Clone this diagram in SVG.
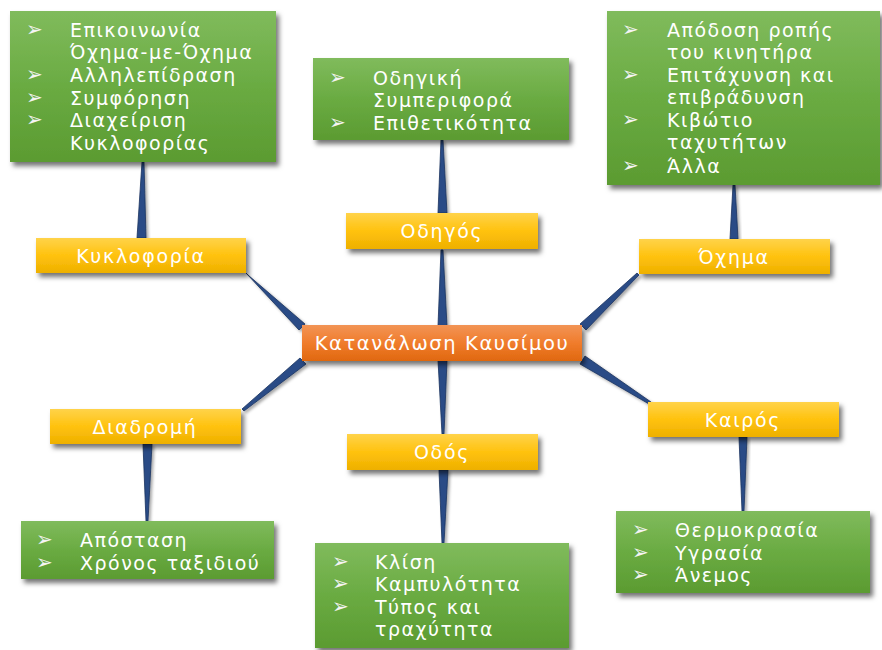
<svg xmlns="http://www.w3.org/2000/svg" width="882" height="650" viewBox="0 0 882 650">
<defs>
<linearGradient id="gGreen" x1="0" y1="0" x2="0" y2="1">
<stop offset="0" stop-color="#80bb5c"/><stop offset="0.5" stop-color="#6aab42"/><stop offset="1" stop-color="#5b9b31"/>
</linearGradient>
<linearGradient id="gYellow" x1="0" y1="0" x2="0" y2="1">
<stop offset="0" stop-color="#ffd34a"/><stop offset="0.5" stop-color="#ffc20e"/><stop offset="1" stop-color="#eeb000"/>
</linearGradient>
<linearGradient id="gOrange" x1="0" y1="0" x2="0" y2="1">
<stop offset="0" stop-color="#f29455"/><stop offset="0.5" stop-color="#f07c2c"/><stop offset="1" stop-color="#e0680f"/>
</linearGradient>
<filter id="sh" x="-10%" y="-20%" width="130%" height="160%">
<feDropShadow dx="3" dy="4" stdDeviation="2.5" flood-color="#000" flood-opacity="0.55"/>
</filter>
<filter id="shs" x="-50%" y="-50%" width="200%" height="200%">
<feDropShadow dx="2" dy="2" stdDeviation="1.5" flood-color="#000" flood-opacity="0.35"/>
</filter>
</defs>
<style>
.green{fill:url(#gGreen);filter:url(#sh)}
.yellow{fill:url(#gYellow);filter:url(#sh)}
.orange{fill:url(#gOrange);filter:url(#sh)}
text{font-family:"DejaVu Sans","Noto Sans",sans-serif;fill:#fff}
.t{font-size:19px;letter-spacing:1.5px}
.lbl{font-size:19px;letter-spacing:1.7px;text-anchor:middle}
.ctr{font-size:19.5px;letter-spacing:1.6px;text-anchor:middle}
.b{font-size:20px;fill:#f4f4f4}
.spike{fill:#2a4c86;stroke:#1a325e;stroke-width:0.8;filter:url(#shs)}
</style>

<g id="connectors">
<polygon class="spike" points="142,162 144,162 146,238 137,238"/>
<polygon class="spike" points="441,140 443,140 447,213 438,213"/>
<polygon class="spike" points="733,185 735,185 738,239 730,239"/>
<polygon class="spike" points="143,444 152,444 148,521 146,521"/>
<polygon class="spike" points="439,470 448,470 444,543 442,543"/>
<polygon class="spike" points="739,437 747,437 744,511 742,511"/>
<polygon class="spike" points="246,273 248,275 305,324 299,330"/>
<polygon class="spike" points="242,409 244,411 306,364 300,358"/>
<polygon class="spike" points="637,273 639,275 586,330 580,324"/>
<polygon class="spike" points="649,404 651,402 585,356 580,364"/>
<polygon class="spike" points="441,250 443,250 447,326 438,326"/>
<polygon class="spike" points="438,360 447,360 444,434 442,434"/>
</g>

<g id="n-center">
<rect class="orange" x="302" y="325" width="280" height="36"/>
<text class="ctr" x="442" y="350">Κατανάλωση Καυσίμου</text>
</g>

<g id="n-kykloforia">
<rect class="yellow" x="36" y="238" width="210" height="35"/>
<text class="lbl" x="141" y="262.5">Κυκλοφορία</text>
</g>
<g id="n-odigos">
<rect class="yellow" x="346" y="213" width="192" height="36"/>
<text class="lbl" x="442" y="238">Οδηγός</text>
</g>
<g id="n-oxima">
<rect class="yellow" x="639" y="239" width="191" height="35"/>
<text class="lbl" x="734" y="263.5">Όχημα</text>
</g>
<g id="n-diadromi">
<rect class="yellow" x="50" y="409" width="191" height="35"/>
<text class="lbl" x="145" y="433.5">Διαδρομή</text>
</g>
<g id="n-odos">
<rect class="yellow" x="347" y="434" width="191" height="36"/>
<text class="lbl" x="442" y="459">Οδός</text>
</g>
<g id="n-kairos">
<rect class="yellow" x="648" y="402" width="191" height="35"/>
<text class="lbl" x="743" y="426.5">Καιρός</text>
</g>

<g id="g-kykloforia">
<rect class="green" x="10" y="11" width="266" height="151"/>
<text class="b" x="26" y="36">➢</text>
<text class="t" x="70" y="36.5">Επικοινωνία</text>
<text class="t" x="70" y="59">Όχημα-με-Όχημα</text>
<text class="b" x="26" y="81">➢</text>
<text class="t" x="70" y="81.5">Αλληλεπίδραση</text>
<text class="b" x="26" y="104">➢</text>
<text class="t" x="70" y="104.5">Συμφόρηση</text>
<text class="b" x="26" y="126">➢</text>
<text class="t" x="70" y="127">Διαχείριση</text>
<text class="t" x="70" y="149.5">Κυκλοφορίας</text>
</g>

<g id="g-odigos">
<rect class="green" x="313" y="58" width="256" height="82"/>
<text class="b" x="329" y="84">➢</text>
<text class="t" x="373" y="84.5">Οδηγική</text>
<text class="t" x="373" y="107">Συμπεριφορά</text>
<text class="b" x="329" y="129">➢</text>
<text class="t" x="373" y="129.5">Επιθετικότητα</text>
</g>

<g id="g-oxima">
<rect class="green" x="607" y="11" width="273" height="174"/>
<text class="b" x="622" y="36">➢</text>
<text class="t" x="667" y="36.5">Απόδοση ροπής</text>
<text class="t" x="667" y="59">του κινητήρα</text>
<text class="b" x="622" y="81">➢</text>
<text class="t" x="667" y="81.5">Επιτάχυνση και</text>
<text class="t" x="667" y="104">επιβράδυνση</text>
<text class="b" x="622" y="126">➢</text>
<text class="t" x="667" y="126.5">Κιβώτιο</text>
<text class="t" x="667" y="149">ταχυτήτων</text>
<text class="b" x="622" y="172">➢</text>
<text class="t" x="667" y="172.5">Άλλα</text>
</g>

<g id="g-diadromi">
<rect class="green" x="21" y="521" width="253" height="58"/>
<text class="b" x="36" y="546">➢</text>
<text class="t" x="80" y="546.5">Απόσταση</text>
<text class="b" x="36" y="569">➢</text>
<text class="t" x="80" y="569.5">Χρόνος ταξιδιού</text>
</g>

<g id="g-odos">
<rect class="green" x="315" y="543" width="254" height="105"/>
<text class="b" x="332" y="568">➢</text>
<text class="t" x="375" y="568.5">Κλίση</text>
<text class="b" x="332" y="590">➢</text>
<text class="t" x="375" y="591">Καμπυλότητα</text>
<text class="b" x="332" y="613">➢</text>
<text class="t" x="375" y="613.5">Τύπος και</text>
<text class="t" x="375" y="636">τραχύτητα</text>
</g>

<g id="g-kairos">
<rect class="green" x="616" y="511" width="254" height="82"/>
<text class="b" x="632" y="536">➢</text>
<text class="t" x="675" y="536.5">Θερμοκρασία</text>
<text class="b" x="632" y="559">➢</text>
<text class="t" x="675" y="559.5">Υγρασία</text>
<text class="b" x="632" y="581">➢</text>
<text class="t" x="675" y="581.5">Άνεμος</text>
</g>
</svg>
